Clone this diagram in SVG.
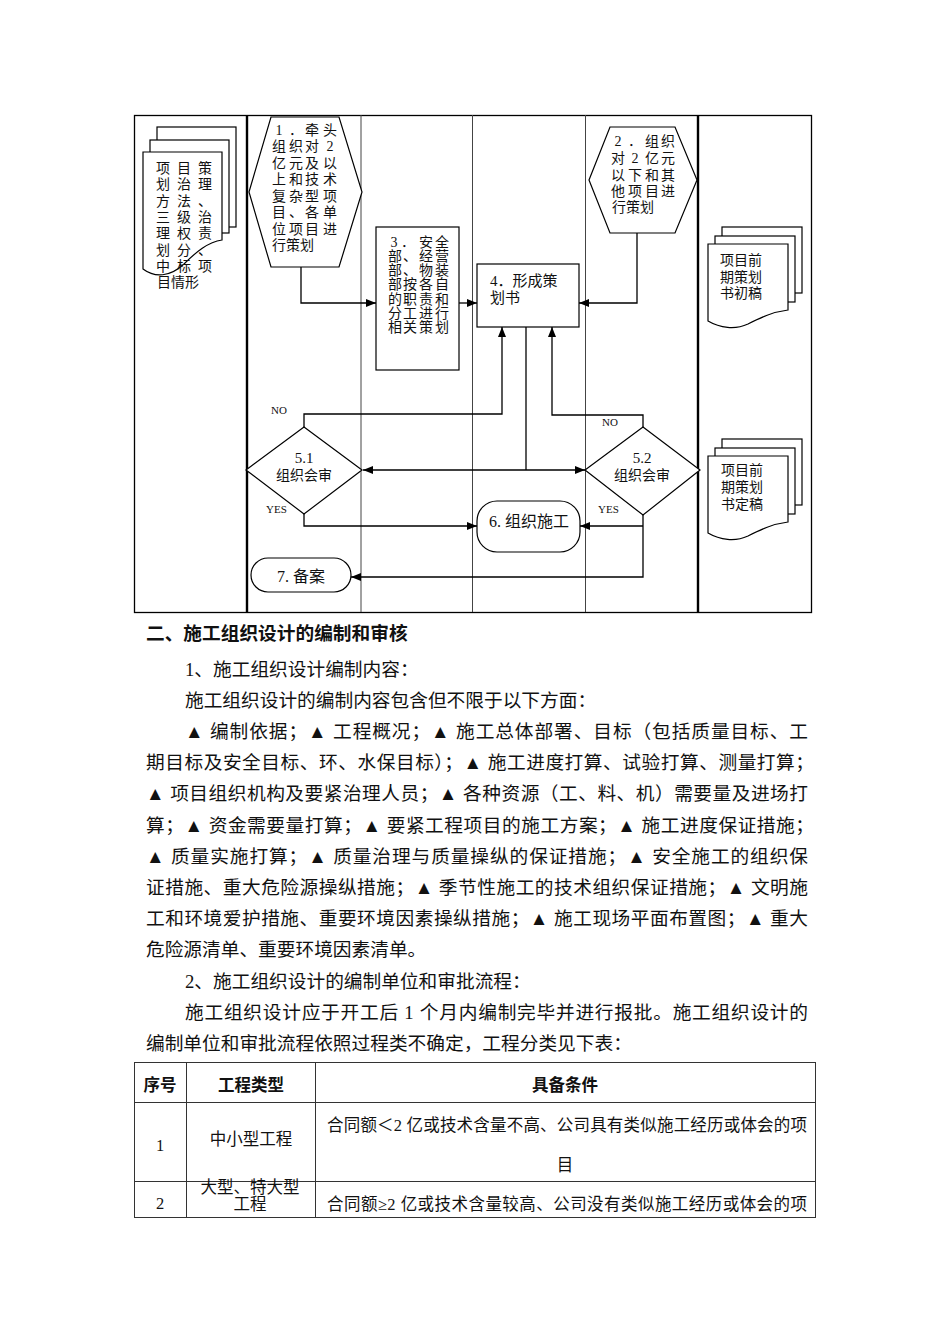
<svg xmlns="http://www.w3.org/2000/svg" width="950" height="1344" viewBox="0 0 950 1344">
<defs>
<marker id="ah" viewBox="0 0 10 8" refX="10" refY="4" markerWidth="10" markerHeight="8" markerUnits="userSpaceOnUse" orient="auto-start-reverse">
<path d="M0,0 L10,4 L0,8 Z" fill="#000"/>
</marker>
<style>
.t{font-family:"Liberation Serif","Noto Sans CJK SC",serif;fill:#111;dominant-baseline:central}
.f14{font-size:14px}
.f15{font-size:15px}
.f16{font-size:16px}
.sm{font-size:11px}
.mid{text-anchor:middle}
.shape{fill:#fff;stroke:#000;stroke-width:1.2}
.ln{fill:none;stroke:#000;stroke-width:1.3}
.lane{stroke:#444;stroke-width:1}
.lanek{stroke:#000;stroke-width:2.4}
.body{font-size:18.7px}
.bold{font-weight:bold}
.tb{font-size:16.5px}
.grid{stroke:#333;stroke-width:1;fill:none}
</style>
</defs>
<rect width="950" height="1344" fill="#fff"/>

<g id="lanes">
<rect x="134.5" y="115.5" width="677" height="497" fill="none" stroke="#000" stroke-width="1.3"/>
<line class="lanek" x1="247" y1="115" x2="247" y2="612"/>
<line class="lane" x1="361" y1="115" x2="361" y2="612"/>
<line class="lane" x1="472.5" y1="115" x2="472.5" y2="612"/>
<line class="lane" x1="585.5" y1="115" x2="585.5" y2="612"/>
<line class="lanek" x1="698" y1="115" x2="698" y2="612"/>
</g>

<g id="doc-left">
<rect class="shape" x="157" y="127" width="79" height="100"/>
<rect class="shape" x="150" y="140" width="79" height="93"/>
<path class="shape" d="M143,152 H222 V240 C208,242 196,252 184,264 C170,277 155,278 143,269 Z"/>
<g class="t f14 mid">
<text x="163 184 205" y="168">项目策</text>
<text x="163 184 205" y="184.5">划治理</text>
<text x="163 184 205" y="201">方法、</text>
<text x="163 184 205" y="217">三级治</text>
<text x="163 184 205" y="233.5">理权责</text>
<text x="163 184 205" y="250">划分、</text>
<text x="163 184 205" y="266">中标项</text>
<text x="164 178 192" y="282.5">目情形</text>
</g>
</g>

<g id="node1">
<polygon class="shape" points="271,117 339,117 362,192 339,267 271,267 249,192"/>
<g class="t f14 mid">
<text x="279 296 312 330" y="130">1．牵头</text>
<text x="279 296 312 330" y="146.5">组织对2</text>
<text x="279 296 312 330" y="163">亿元及以</text>
<text x="279 296 312 330" y="179.5">上和技术</text>
<text x="279 296 312 330" y="196">复杂型项</text>
<text x="279 296 312 330" y="212.5">目、各单</text>
<text x="279 296 312 330" y="229">位项目进</text>
<text x="279 293 307" y="245.5">行策划</text>
</g>
</g>

<g id="node2">
<polygon class="shape" points="610,127 675,127 697,180 675,233 610,233 589,180"/>
<g class="t f14 mid">
<text x="618 635 652 668" y="141">2．组织</text>
<text x="618 635 652 668" y="158">对2亿元</text>
<text x="618 635 652 668" y="175">以下和其</text>
<text x="618 635 652 668" y="191">他项目进</text>
<text x="619 633 647" y="207">行策划</text>
</g>
</g>

<g id="node3">
<rect class="shape" x="376" y="227" width="83" height="143"/>
<g class="t f14 mid">
<text x="394 408 426 442" y="242">3．安全</text>
<text x="395 410 426 442" y="256">部、经营</text>
<text x="395 410 426 442" y="270.5">部、物装</text>
<text x="395 410 426 442" y="284.5">部按各自</text>
<text x="395 410 426 442" y="299">的职责和</text>
<text x="395 410 426 442" y="313">分工进行</text>
<text x="395 410 426 442" y="327">相关策划</text>
</g>
</g>

<g id="node4">
<rect class="shape" x="477" y="264" width="102" height="63"/>
<text class="t f15" x="490" y="281">4．形成策</text>
<text class="t f15" x="490" y="298">划书</text>
</g>

<g id="doc-right-draft">
<rect class="shape" x="722" y="227" width="80" height="66"/>
<rect class="shape" x="715" y="236" width="80" height="66"/>
<path class="shape" d="M708,244 H788 V310 C772,312 760,318 748,324 C735,330 720,328 708,321 Z"/>
<g class="t f14">
<text x="720" y="260">项目前</text>
<text x="720" y="277">期策划</text>
<text x="720" y="293">书初稿</text>
</g>
</g>

<g id="doc-right-final">
<rect class="shape" x="722" y="439" width="80" height="66"/>
<rect class="shape" x="715" y="448" width="80" height="66"/>
<path class="shape" d="M708,456 H788 V522 C772,524 760,530 748,536 C735,542 720,540 708,533 Z"/>
<g class="t f14">
<text x="721" y="470">项目前</text>
<text x="721" y="487">期策划</text>
<text x="721" y="504">书定稿</text>
</g>
</g>

<g id="node51">
<polygon class="shape" points="304,427 362,470 304,514 246,470"/>
<text class="t f15 mid" x="304" y="458">5.1</text>
<text class="t f14 mid" x="304" y="475">组织会审</text>
</g>

<g id="node52">
<polygon class="shape" points="643,427 700,470 643,515 585,470"/>
<text class="t f15 mid" x="642" y="458">5.2</text>
<text class="t f14 mid" x="642" y="475">组织会审</text>
</g>

<g id="node6">
<rect class="shape" x="477" y="501" width="103" height="51" rx="20" ry="20"/>
<text class="t f16 mid" x="529" y="521">6. 组织施工</text>
</g>

<g id="node7">
<rect class="shape" x="251" y="558" width="100" height="34" rx="17" ry="17"/>
<text class="t f16 mid" x="301" y="576">7. 备案</text>
</g>

<g id="connectors">
<polyline class="ln" points="301,267 301,303 376,303" marker-end="url(#ah)"/>
<line class="ln" x1="459" y1="303" x2="477" y2="303" marker-end="url(#ah)"/>
<polyline class="ln" points="637,233 637,303 579,303" marker-end="url(#ah)"/>
<polyline class="ln" points="304,427 304,414 502,414 502,327" marker-end="url(#ah)"/>
<polyline class="ln" points="643,427 643,415 552,415 552,327" marker-end="url(#ah)"/>
<line class="ln" x1="526" y1="327" x2="526" y2="470"/>
<line class="ln" x1="363" y1="470" x2="585" y2="470" marker-start="url(#ah)" marker-end="url(#ah)"/>
<polyline class="ln" points="304,514 304,526 477,526" marker-end="url(#ah)"/>
<polyline class="ln" points="643,515 643,577 351,577" marker-end="url(#ah)"/>
<line class="ln" x1="643" y1="526" x2="580" y2="526" marker-end="url(#ah)"/>
<text class="t sm" x="271" y="410">NO</text>
<text class="t sm" x="602" y="422">NO</text>
<text class="t sm" x="266" y="509">YES</text>
<text class="t sm" x="598" y="509">YES</text>
</g>

<g id="body-text" class="t body">
<text class="bold" x="146" y="633">二、施工组织设计的编制和审核</text>
<text x="185" y="669">1、施工组织设计编制内容：</text>
<text x="185" y="700.2">施工组织设计的编制内容包含但不限于以下方面：</text>
<text x="185" y="731.4" textLength="623" lengthAdjust="spacing">▲ 编制依据；▲ 工程概况；▲ 施工总体部署、目标（包括质量目标、工</text>
<text x="146" y="762.6" textLength="668" lengthAdjust="spacing">期目标及安全目标、环、水保目标）；▲ 施工进度打算、试验打算、测量打算；</text>
<text x="146" y="793.8" textLength="662" lengthAdjust="spacing">▲ 项目组织机构及要紧治理人员；▲ 各种资源（工、料、机）需要量及进场打</text>
<text x="146" y="825" textLength="668" lengthAdjust="spacing">算；▲ 资金需要量打算；▲ 要紧工程项目的施工方案；▲ 施工进度保证措施；</text>
<text x="146" y="856.2" textLength="662" lengthAdjust="spacing">▲ 质量实施打算；▲ 质量治理与质量操纵的保证措施；▲ 安全施工的组织保</text>
<text x="146" y="887.4" textLength="662" lengthAdjust="spacing">证措施、重大危险源操纵措施；▲ 季节性施工的技术组织保证措施；▲ 文明施</text>
<text x="146" y="918.6" textLength="662" lengthAdjust="spacing">工和环境爱护措施、重要环境因素操纵措施；▲ 施工现场平面布置图；▲ 重大</text>
<text x="146" y="949.8">危险源清单、重要环境因素清单。</text>
<text x="185" y="981">2、施工组织设计的编制单位和审批流程：</text>
<text x="185" y="1012.2" textLength="623" lengthAdjust="spacing">施工组织设计应于开工后 1 个月内编制完毕并进行报批。施工组织设计的</text>
<text x="146" y="1043.4">编制单位和审批流程依照过程类不确定，工程分类见下表：</text>
</g>

<g id="table">
<rect class="grid" x="134.5" y="1062.5" width="681" height="155"/>
<line class="grid" x1="186.5" y1="1062" x2="186.5" y2="1218"/>
<line class="grid" x1="315.5" y1="1062" x2="315.5" y2="1218"/>
<line class="grid" x1="134" y1="1102.5" x2="816" y2="1102.5"/>
<line class="grid" x1="134" y1="1181.5" x2="816" y2="1181.5"/>
<g class="t tb">
<text class="bold mid" x="160" y="1085">序号</text>
<text class="bold mid" x="251" y="1085">工程类型</text>
<text class="bold mid" x="565" y="1085">具备条件</text>
<text class="mid" x="160" y="1145">1</text>
<text class="mid" x="251" y="1139">中小型工程</text>
<text x="327" y="1125" textLength="480" lengthAdjust="spacing">合同额＜2 亿或技术含量不高、公司具有类似施工经历或体会的项</text>
<text class="mid" x="565" y="1165">目</text>
<text class="mid" x="160" y="1203">2</text>
<text class="mid" x="250" y="1187">大型、特大型</text>
<text class="mid" x="250" y="1204">工程</text>
<text x="327" y="1204" textLength="480" lengthAdjust="spacing">合同额≥2 亿或技术含量较高、公司没有类似施工经历或体会的项</text>
</g>
</g>
</svg>
